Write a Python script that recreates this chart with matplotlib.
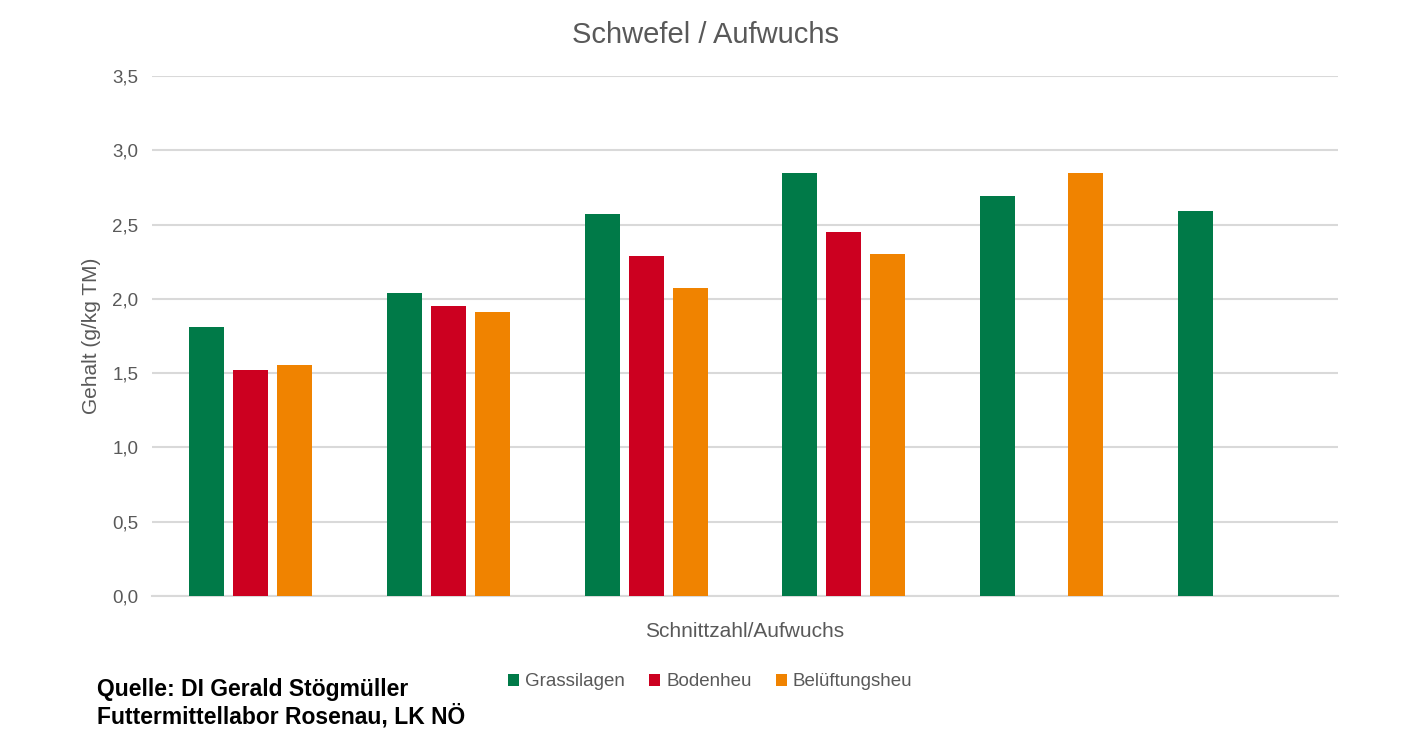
import numpy as np
import matplotlib.pyplot as plt

plt.rcParams['font.family'] = ['Liberation Sans', 'DejaVu Sans']

cuts = ['1', '2', '3', '4', '5', '6']
grassilagen = [1.81, 2.04, 2.57, 2.85, 2.69, 2.59]
bodenheu = [1.52, 1.95, 2.29, 2.45, np.nan, np.nan]
belueftungsheu = [1.555, 1.91, 2.07, 2.30, 2.85, np.nan]

series = [
    ('Grassilagen', grassilagen, '#007A48'),
    ('Bodenheu', bodenheu, '#CC0020'),
    ('Belüftungsheu', belueftungsheu, '#F08300'),
]

TXT = '#595959'
GRID = '#D9D9D9'

fig = plt.figure(figsize=(14.09, 7.55), dpi=100)
ax = fig.add_axes([0.1079, 0.2106, 0.8417, 0.6887])

x = np.arange(len(cuts))
width = 0.177
step = 0.2225
for i, (name, vals, col) in enumerate(series):
    ax.bar(x + (i - 1) * step, vals, width, color=col, label=name, zorder=3)

ax.set_xlim(-0.5, len(cuts) - 0.5)
ax.set_ylim(0, 3.5)
ax.set_yticks(np.arange(0, 3.51, 0.5))
ax.set_yticklabels([f'{v:.1f}'.replace('.', ',') for v in np.arange(0, 3.51, 0.5)])
ax.set_xticks([])
ax.yaxis.grid(True, color=GRID, linewidth=1.5, zorder=0)
ax.set_axisbelow(True)
for s in ['top', 'right', 'left']:
    ax.spines[s].set_visible(False)
ax.spines['bottom'].set_color(GRID)
ax.spines['bottom'].set_linewidth(1.5)
ax.tick_params(axis='y', length=0, pad=10, labelsize=13.5, labelcolor=TXT)

ax.set_xlabel('Schnittzahl/Aufwuchs', fontsize=15, color=TXT, labelpad=19)
ax.set_ylabel('Gehalt (g/kg TM)', fontsize=15, color=TXT, labelpad=8)
fig.text(0.501, 0.954, 'Schwefel / Aufwuchs', fontsize=21, color=TXT,
         ha='center', va='center')

fig.legend(loc='center', bbox_to_anchor=(0.504, 0.0967), ncol=3, frameon=False,
           fontsize=13.5, labelcolor=TXT, handlelength=0.6, handleheight=0.6,
           handletextpad=0.3, columnspacing=1.3)

fig.text(0.069, 0.068, 'Quelle: DI Gerald Stögmüller\nFuttermittellabor Rosenau, LK NÖ',
         fontsize=16.5, fontweight='bold', color='black', ha='left', va='center',
         linespacing=1.15)

fig.savefig('out.png', dpi=100)
